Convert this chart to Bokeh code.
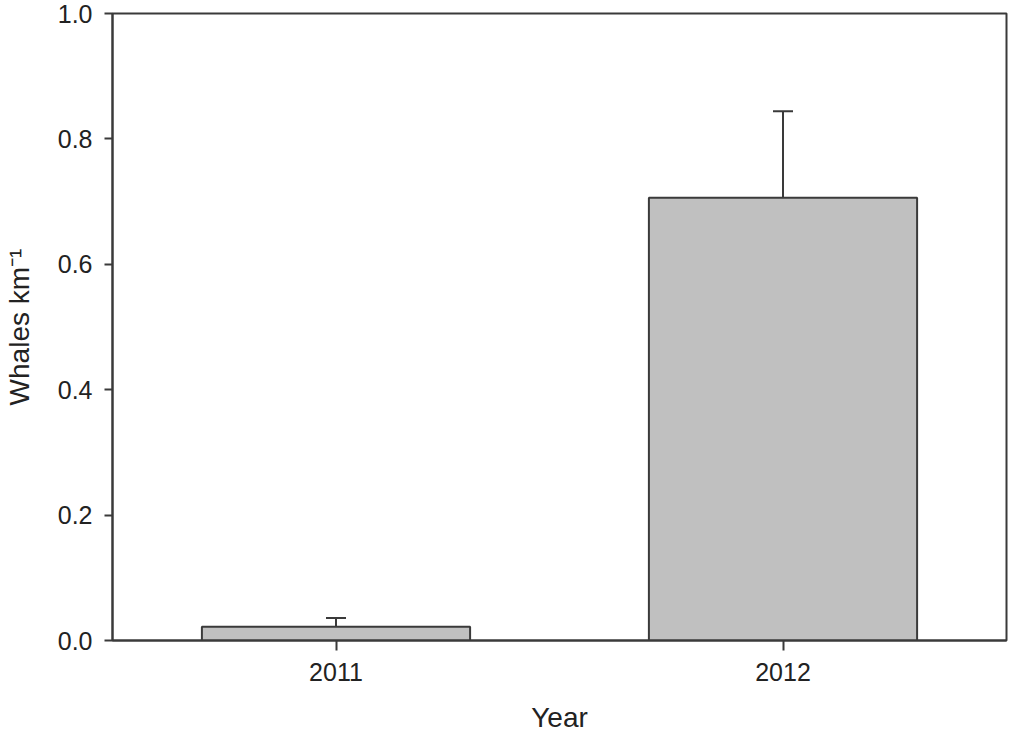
from bokeh.plotting import figure
from bokeh.models import FactorRange, Range1d, FixedTicker, PrintfTickFormatter, ColumnDataSource, Whisker, TeeHead
from bokeh.embed import file_html
from bokeh.resources import INLINE

years = ["2011", "2012"]
density = [0.022, 0.706]
se = [0.014, 0.138]
y_ticks = [0.0, 0.2, 0.4, 0.6, 0.8, 1.0]

upper = [d + e for d, e in zip(density, se)]
src = ColumnDataSource(dict(year=years, density=density, upper=upper))

FONT = "Liberation Sans"
LINE = "#3a3a3a"

p = figure(x_range=FactorRange(*years), y_range=Range1d(0, 1.0),
           width=1008, height=735, output_backend="svg", toolbar_location=None,
           min_border_left=104, min_border_right=2, min_border_top=13, min_border_bottom=90)
p.background_fill_color = "white"
p.border_fill_color = "white"
p.outline_line_color = LINE
p.outline_line_width = 2
p.xgrid.visible = False
p.ygrid.visible = False

p.vbar(x="year", top="density", width=0.6, source=src,
       fill_color="#c0c0c0", line_color=LINE, line_width=2)

w = Whisker(base="year", lower="density", upper="upper", source=src,
            line_color=LINE, line_width=2,
            upper_head=TeeHead(size=20, line_color=LINE, line_width=2),
            lower_head=None)
p.add_layout(w)

p.yaxis.ticker = FixedTicker(ticks=y_ticks)
p.yaxis.formatter = PrintfTickFormatter(format="%.1f")
p.yaxis.minor_tick_line_color = None
p.yaxis.major_tick_in = 0
p.yaxis.major_tick_out = 8
p.yaxis.major_label_standoff = 12
p.yaxis.axis_label = "Whales km\u207b\u00b9"
p.yaxis.axis_label_standoff = 20

p.xaxis.major_tick_in = 0
p.xaxis.major_tick_out = 10
p.xaxis.major_label_standoff = 12
p.xaxis.axis_label = "Year"
p.xaxis.axis_label_standoff = 18

for ax in (p.xaxis, p.yaxis):
    ax.axis_line_color = LINE
    ax.axis_line_width = 2
    ax.major_tick_line_color = LINE
    ax.major_tick_line_width = 2
    ax.major_label_text_font = FONT
    ax.major_label_text_font_size = "25px"
    ax.major_label_text_color = "#222222"
    ax.axis_label_text_font = FONT
    ax.axis_label_text_font_size = "28px"
    ax.axis_label_text_font_style = "normal"
    ax.axis_label_text_color = "#222222"

open("out.html", "w").write(file_html(p, INLINE))
